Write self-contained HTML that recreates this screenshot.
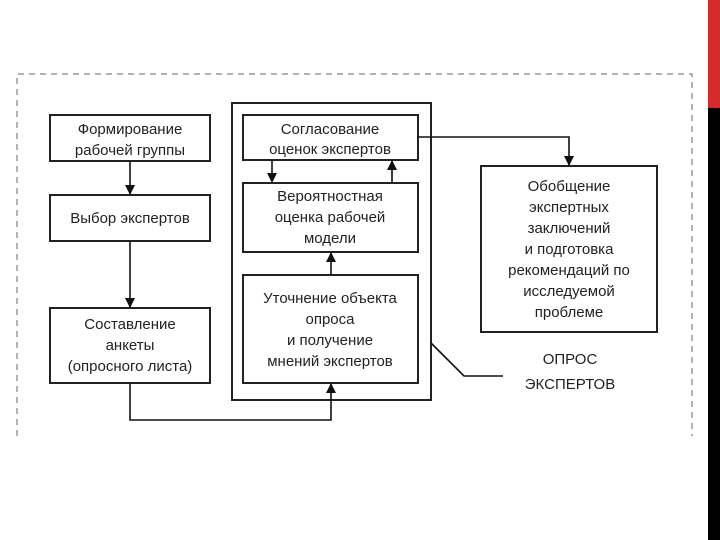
<!DOCTYPE html>
<html><head><meta charset="utf-8"><style>
html,body{margin:0;padding:0;background:#fff;}
svg{display:block;}
text{font-family:"Liberation Sans",sans-serif;font-size:15px;fill:#222;text-anchor:middle;}
</style></head><body>
<svg width="720" height="540" viewBox="0 0 720 540" xmlns="http://www.w3.org/2000/svg">
<defs><marker id="a" markerWidth="10" markerHeight="10" refX="10" refY="5" orient="auto" markerUnits="userSpaceOnUse"><path d="M0,0 L10,5 L0,10 z" fill="#111"/></marker></defs>
<rect x="708" y="0" width="12" height="108" fill="#d42a2a"/>
<rect x="708" y="108" width="12" height="432" fill="#000"/>
<path d="M17,436 V74 H692 V436" fill="none" stroke="#999" stroke-width="1.5" stroke-dasharray="6,5"/>
<g fill="none" stroke="#222" stroke-width="2">
<rect x="50" y="115" width="160" height="46"/>
<rect x="50" y="195" width="160" height="46"/>
<rect x="50" y="308" width="160" height="75"/>
<rect x="232" y="103" width="199" height="297"/>
<rect x="243" y="115" width="175" height="45"/>
<rect x="243" y="183" width="175" height="69"/>
<rect x="243" y="275" width="175" height="108"/>
<rect x="481" y="166" width="176" height="166"/>
</g>
<g fill="none" stroke="#111" stroke-width="1.6">
<line x1="130" y1="161" x2="130" y2="195" marker-end="url(#a)"/>
<line x1="130" y1="241" x2="130" y2="308" marker-end="url(#a)"/>
<path d="M130,383 V420 H331 V383" marker-end="url(#a)"/>
<line x1="331" y1="275" x2="331" y2="252" marker-end="url(#a)"/>
<line x1="272" y1="160" x2="272" y2="183" marker-end="url(#a)"/>
<line x1="392" y1="183" x2="392" y2="160" marker-end="url(#a)"/>
<path d="M418,137 H569 V166" marker-end="url(#a)"/>
<path d="M431,343 L464,376 H503"/>
</g>
<text x="130" y="134">Формирование</text>
<text x="130" y="155">рабочей группы</text>
<text x="130" y="223">Выбор экспертов</text>
<text x="130" y="329">Составление</text>
<text x="130" y="350">анкеты</text>
<text x="130" y="371">(опросного листа)</text>
<text x="330" y="134">Согласование</text>
<text x="330" y="154">оценок экспертов</text>
<text x="330" y="201">Вероятностная</text>
<text x="330" y="222">оценка рабочей</text>
<text x="330" y="243">модели</text>
<text x="330" y="303">Уточнение объекта</text>
<text x="330" y="324">опроса</text>
<text x="330" y="345">и получение</text>
<text x="330" y="366">мнений экспертов</text>
<text x="569" y="191">Обобщение</text>
<text x="569" y="212">экспертных</text>
<text x="569" y="233">заключений</text>
<text x="569" y="254">и подготовка</text>
<text x="569" y="275">рекомендаций по</text>
<text x="569" y="296">исследуемой</text>
<text x="569" y="317">проблеме</text>
<text x="570" y="364">ОПРОС</text>
<text x="570" y="389">ЭКСПЕРТОВ</text>
</svg>
</body></html>
